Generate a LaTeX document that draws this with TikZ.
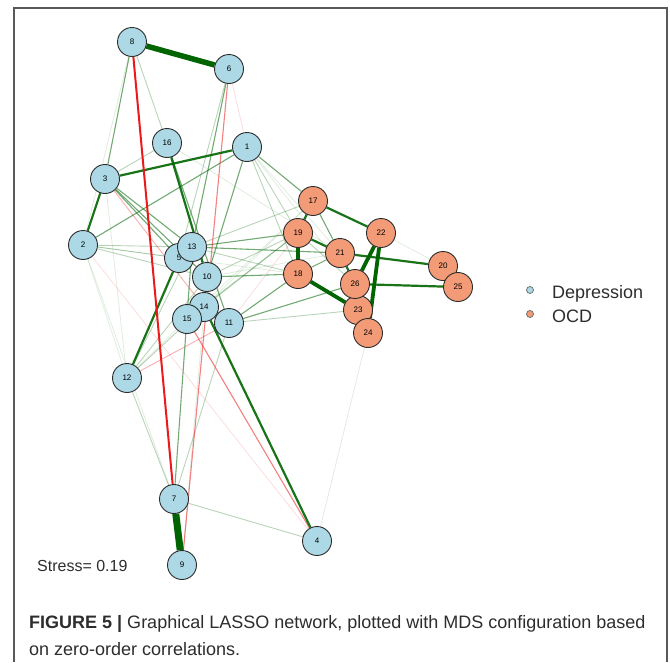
\documentclass[tikz,border=0pt]{standalone}
\usepackage{fontspec}
\setmainfont{Liberation Sans}
\usepackage{tikz}
\usetikzlibrary{positioning}
\pgfdeclarelayer{background}
\pgfsetlayers{background,main}
\definecolor{depblue}{RGB}{173,216,230}
\definecolor{ocdorange}{RGB}{243,155,118}
\definecolor{posgreen}{RGB}{0,100,0}
\definecolor{negred}{RGB}{235,25,25}
\definecolor{inkgray}{RGB}{45,45,45}
\tikzset{%
	dep/.style      = {draw=inkgray, circle, fill=depblue, line width=0.9pt, minimum size=29pt, inner sep=0pt, font=\fontsize{8}{9}\selectfont}, % Depression item
	ocd/.style      = {dep, fill=ocdorange}, % OCD item
	keydot/.style   = {draw=gray!80!black, circle, minimum size=7pt, inner sep=0pt, line width=0.7pt},
	keytext/.style  = {inner sep=0pt, text=inkgray, font=\fontsize{18}{20}\selectfont},
	captext/.style  = {anchor=base west, inner sep=0pt, text=inkgray, font=\fontsize{18}{20}\selectfont},
	frame/.style    = {draw=gray!70!black, line width=1.2pt},
}
\tikzset{%
	pfaint/.style   = {draw=posgreen, opacity=0.12, line width=0.8pt},
	pweak/.style    = {draw=posgreen, opacity=0.28, line width=0.9pt},
	pmid/.style     = {draw=posgreen, opacity=0.55, line width=1.1pt},
	pstrong/.style  = {draw=posgreen, opacity=0.9, line width=2.2pt},
	pbold/.style    = {draw=posgreen, line width=3.8pt},
	pheavy/.style   = {draw=posgreen, line width=5.5pt},
	nfaint/.style   = {draw=negred, opacity=0.15, line width=0.8pt},
	nweak/.style    = {draw=negred, opacity=0.35, line width=0.9pt},
	nmid/.style     = {draw=negred, opacity=0.55, line width=1.1pt},
	nstrong/.style  = {draw=negred, line width=2pt},
}
\begin{document}
\begin{tikzpicture}[x=1pt,y=-1pt]
	\useasboundingbox (0,0) rectangle (670,662);
	\draw [frame] (14,662) -- (14,8) -- (667,8) -- (667,662);
	
	% items
	\node [dep] (n1) at (247,147) {1};
	\node [dep] (n2) at (83,245) {2};
	\node [dep] (n3) at (105,179) {3};
	\node [dep] (n4) at (317,541) {4};
	\node [dep] (n5) at (179,258) {5};
	\node [dep] (n6) at (229,69) {6};
	\node [dep] (n7) at (174,499) {7};
	\node [dep] (n8) at (132,42) {8};
	\node [dep] (n9) at (182,565) {9};
	\node [dep] (n10) at (207,277) {10};
	\node [dep] (n11) at (229,323) {11};
	\node [dep] (n12) at (127,378) {12};
	\node [dep] (n13) at (192,247) {13};
	\node [dep] (n14) at (204,307) {14};
	\node [dep] (n15) at (187,319) {15};
	\node [dep] (n16) at (167,143) {16};
	\node [ocd] (n17) at (313,201) {17};
	\node [ocd] (n18) at (298,274) {18};
	\node [ocd] (n19) at (298,233) {19};
	\node [ocd] (n20) at (443,266) {20};
	\node [ocd] (n21) at (340,253) {21};
	\node [ocd] (n22) at (381,233) {22};
	\node [ocd] (n23) at (358,310) {23};
	\node [ocd] (n24) at (368,333) {24};
	\node [ocd] (n25) at (458,287) {25};
	\node [ocd] (n26) at (355,284) {26};
	
	\begin{pgfonlayer}{background}
	% faint edges
	\draw [pfaint] (n2) -- (n12); \draw [pfaint] (n2) -- (n18); \draw [pfaint] (n16) -- (n21);
	\draw [pfaint] (n1) -- (n21); \draw [pfaint] (n1) -- (n26); \draw [pfaint] (n3) -- (n12);
	\draw [pfaint] (n22) -- (n20); \draw [pfaint] (n4) -- (n24); \draw [pfaint] (n15) -- (n17);
	\draw [pfaint] (n14) -- (n17); \draw [pfaint] (n10) -- (n21); \draw [pfaint] (n8) -- (n2);
	\draw [pfaint] (n12) -- (n15); \draw [pfaint] (n9) -- (n10); \draw [pfaint] (n2) -- (n7);
	\draw [nfaint] (n2) -- (n4); \draw [nfaint] (n6) -- (n1); \draw [nfaint] (n11) -- (n19);
	% weak edges
	\draw [pweak] (n8) -- (n16); \draw [pweak] (n6) -- (n5); \draw [pweak] (n1) -- (n18);
	\draw [pweak] (n1) -- (n19); \draw [pweak] (n3) -- (n16); \draw [pweak] (n2) -- (n5);
	\draw [pweak] (n2) -- (n13); \draw [pweak] (n2) -- (n10); \draw [pweak] (n13) -- (n17);
	\draw [pweak] (n10) -- (n19); \draw [pweak] (n14) -- (n19); \draw [pweak] (n15) -- (n19);
	\draw [pweak] (n12) -- (n13); \draw [pweak] (n12) -- (n10); \draw [pweak] (n12) -- (n14);
	\draw [pweak] (n12) -- (n7); \draw [pweak] (n7) -- (n11); \draw [pweak] (n7) -- (n4);
	\draw [pweak] (n13) -- (n18); \draw [pweak] (n11) -- (n23); \draw [pweak] (n19) -- (n26);
	\draw [nweak] (n3) -- (n14); \draw [nweak] (n12) -- (n11);
	% medium edges
	\draw [pmid] (n2) -- (n1); \draw [pmid] (n8) -- (n3); \draw [pmid] (n6) -- (n13);
	\draw [pmid] (n16) -- (n11); \draw [pmid] (n13) -- (n19); \draw [pmid] (n1) -- (n17);
	\draw [pmid] (n1) -- (n10); \draw [pmid] (n3) -- (n13); \draw [pmid] (n3) -- (n5);
	\draw [pmid] (n3) -- (n10); \draw [pmid] (n10) -- (n18); \draw [pmid] (n11) -- (n18);
	\draw [pmid] (n11) -- (n26); \draw [pmid] (n13) -- (n21); \draw [pmid] (n7) -- (n13);
	\draw [pmid] (n17) -- (n21); \draw [pmid] (n18) -- (n21);
	\draw [nmid] (n6) -- (n9); \draw [nmid] (n15) -- (n4);
	% strong edges
	\draw [pstrong] (n3) -- (n2); \draw [pstrong] (n3) -- (n1); \draw [pstrong] (n5) -- (n12);
	\draw [pstrong] (n14) -- (n4); \draw [pstrong] (n16) -- (n10); \draw [pstrong] (n17) -- (n19);
	\draw [pstrong] (n17) -- (n22); \draw [pstrong] (n19) -- (n21); \draw [pstrong] (n21) -- (n26);
	\draw [pstrong] (n21) -- (n20); \draw [pstrong] (n26) -- (n25);
	\draw [nstrong] (n8) -- (n7);
	\draw [pbold] (n19) -- (n18); \draw [pbold] (n18) -- (n23);
	\draw [pbold] (n22) -- (n26); \draw [pbold] (n22) -- (n24);
	\draw [pheavy] (n8) -- (n6);
	\draw [pheavy, line width=7pt] (n7) -- (n9);
	\end{pgfonlayer}
	
	% legend
	\node [keydot, fill=depblue] (kdep) at (530,290) {};
	\node [keytext, anchor=base west] (tdep) at (552,298) {Depression};
	\node [keydot, fill=ocdorange] (kocd) at (530,314) {};
	\node [keytext, anchor=base west] (tocd) at (552,322) {OCD};
	
	\node [captext, font=\fontsize{16}{18}\selectfont] (stress) at (37,571) {Stress= 0.19};
	\node [captext] (cap1) at (29,628) {\textbf{FIGURE 5 |} Graphical LASSO network, plotted with MDS configuration based};
	\node [captext] (cap2) at (29,655) {on zero-order correlations.};
\end{tikzpicture}
\end{document}
